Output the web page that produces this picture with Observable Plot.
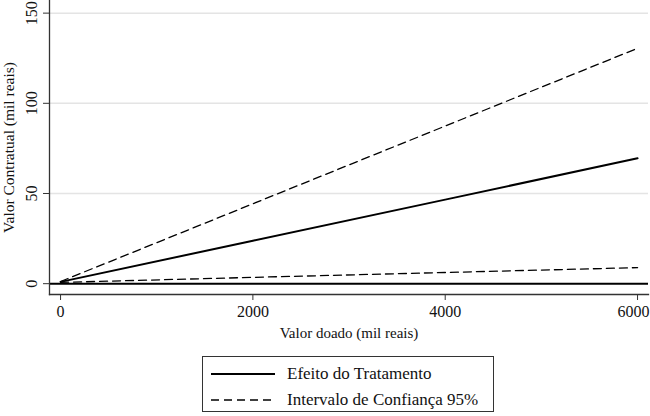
<!DOCTYPE html>
<html>
<head>
<meta charset="utf-8">
<script src="https://cdn.jsdelivr.net/npm/d3@7"></script>
<script src="https://cdn.jsdelivr.net/npm/@observablehq/plot@0.6"></script>
<style>
  html, body { margin: 0; padding: 0; background: #fff; }
  #wrap { position: relative; width: 650px; height: 416px; font-family: "Liberation Serif", "DejaVu Serif", serif; }
  #legend { position: absolute; left: 202px; top: 356px; width: 290px; height: 54px; border: 1px solid #333; box-sizing: content-box; }
  .row { position: absolute; left: 0; height: 26px; display: flex; align-items: center; font-size: 17px; color: #111; font-family: "Liberation Serif", "DejaVu Serif", serif; }
  .row svg { margin-left: 8px; margin-right: 12px; }
</style>
</head>
<body>
<div id="wrap"></div>
<script>
// Data
const donated   = [0, 2000, 4000, 6000];           // Valor doado (mil reais)
const effect    = [1.0, 23.8, 46.6, 69.5];          // Efeito do Tratamento
const upperCI   = [1.2, 44.3, 87.4, 130.5];         // IC 95% superior
const lowerCI   = [0.7, 3.5, 6.2, 8.9];             // IC 95% inferior
const xTicks    = [0, 2000, 4000, 6000];
const yTicks    = [0, 50, 100, 150];
const gridTicks = [50, 100, 150];
const xLabel = "Valor doado (mil reais)";
const yLabel = "Valor Contratual (mil reais)";
const legendLabels = ["Efeito do Tratamento", "Intervalo de Confiança 95%"];

const rows = donated.map((d, i) => ({x: d, effect: effect[i], upper: upperCI[i], lower: lowerCI[i]}));
const FONT = '"Liberation Serif", "DejaVu Serif", serif';
const xTicksInner = xTicks.slice(0, -1);
const xTickLast = xTicks.slice(-1);

const chart = Plot.plot({
  width: 650,
  height: 350,
  marginLeft: 49,
  marginRight: 2,
  marginTop: 0,
  marginBottom: 56,
  style: {fontFamily: FONT, background: "#fff", color: "#111"},
  x: {domain: [-115, 6114]},
  y: {domain: [-6, 157]},
  marks: [
    Plot.gridY(gridTicks, {stroke: "#e4e4e4", strokeOpacity: 1, strokeWidth: 1.5}),
    Plot.ruleY([0], {stroke: "#000", strokeWidth: 2}),
    Plot.line(rows, {x: "x", y: "upper", stroke: "#000", strokeWidth: 1.3, strokeDasharray: "8,5"}),
    Plot.line(rows, {x: "x", y: "lower", stroke: "#000", strokeWidth: 1.3, strokeDasharray: "8,5"}),
    Plot.line(rows, {x: "x", y: "effect", stroke: "#000", strokeWidth: 2}),
    Plot.frame({anchor: "left", stroke: "#333", strokeWidth: 1.3}),
    Plot.frame({anchor: "bottom", stroke: "#333", strokeWidth: 1.3}),
    Plot.axisX({ticks: xTicksInner, tickFormat: d3.format("d"), tickSize: 6, tickPadding: 5, fontSize: 16, label: null, stroke: "#333", fontFamily: FONT}),
    Plot.axisX({ticks: xTickLast, tickFormat: () => "", tickSize: 6, label: null, stroke: "#333"}),
    Plot.axisX({ticks: xTickLast, tickFormat: d3.format("d"), tickSize: 0, tickPadding: 11, fontSize: 16, label: null, fontFamily: FONT, dx: -4}),
    Plot.axisY({ticks: yTicks, tickFormat: d3.format("d"), tickSize: 6, tickPadding: 7, fontSize: 16, tickRotate: -90, textAnchor: "middle", lineAnchor: "bottom", label: null, stroke: "#333", fontFamily: FONT}),
    Plot.text([xLabel], {frameAnchor: "bottom", dy: 43, fontSize: 15, textAnchor: "middle", fill: "#111", fontFamily: FONT}),
    Plot.text([yLabel], {frameAnchor: "left", dx: -40, rotate: -90, fontSize: 15.5, textAnchor: "middle", fill: "#111", fontFamily: FONT})
  ]
});

const wrap = document.getElementById("wrap");
wrap.appendChild(chart);

const legend = document.createElement("div");
legend.id = "legend";
const dashes = [null, "8,5"];
legendLabels.forEach((lab, i) => {
  const r = document.createElement("div");
  r.className = "row";
  r.style.top = (4 + i * 26) + "px";
  const svg = d3.create("svg").attr("width", 64).attr("height", 10);
  svg.append("line").attr("x1", 0).attr("x2", 64).attr("y1", 5).attr("y2", 5)
    .attr("stroke", "#000").attr("stroke-width", i === 0 ? 2 : 1.3)
    .attr("stroke-dasharray", dashes[i]);
  r.appendChild(svg.node());
  const t = document.createElement("span");
  t.textContent = lab;
  r.appendChild(t);
  legend.appendChild(r);
});
wrap.appendChild(legend);
</script>
</body>
</html>
